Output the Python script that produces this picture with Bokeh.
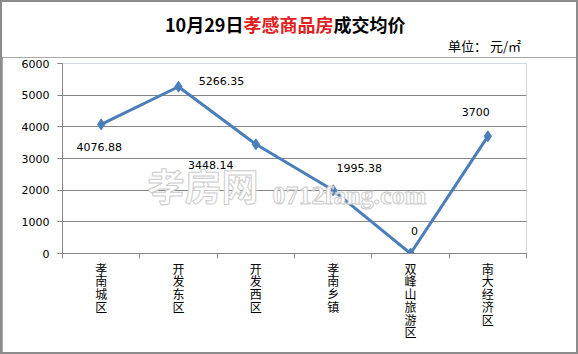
from bokeh.plotting import figure
from bokeh.models import Range1d, FixedTicker, Label, ColumnDataSource, LabelSet, Div
from bokeh.layouts import column
from bokeh.core.properties import value
from bokeh.embed import file_html
from bokeh.resources import INLINE

# ---- data ----
districts = ["孝南城区", "开发东区", "开发西区", "孝南乡镇", "双峰山旅游区", "南大经济区"]
prices = [4076.88, 5266.35, 3448.14, 1995.38, 0, 3700]
price_labels = ["4076.88", "5266.35", "3448.14", "1995.38", "0", "3700"]
y_ticks = [0, 1000, 2000, 3000, 4000, 5000, 6000]
title_parts = ["10月29日", "孝感商品房", "成交均价"]
unit_text = "单位： 元/㎡"

# ---- layout ----
BW = 2                    # outer border width
HEAD_H = 55               # header height (inside border)
FL, FB = 62, 253          # frame left / bottom in page pixels


def sx(cx):
    return cx - FL


def sy(cy):
    return FB - cy


label_dx = [-2, 43, -45, 26, 4, -12]
label_dy = [-23, 6, -21, 22, 23, 24]

xs = [i + 0.5 for i in range(len(districts))]

fig_h = 354 - HEAD_H - 3 * BW + BW  # = 354 - BW - HEAD_H - BW
fig_h = 354 - 2 * BW - HEAD_H
p = figure(width=578 - 2 * BW, height=fig_h, output_backend="svg", toolbar_location=None,
           x_range=Range1d(0, len(districts)), y_range=Range1d(0, 6000),
           min_border_left=62 - BW, min_border_right=52 - BW,
           min_border_top=63 - BW - HEAD_H, min_border_bottom=fig_h - (63 - BW - HEAD_H) - 190,
           background_fill_color="white", border_fill_color="white",
           margin=(0, BW, BW, BW))

p.outline_line_color = "#d0d8e4"
p.outline_line_width = 1

# grid
p.xgrid.visible = False
p.ygrid.ticker = FixedTicker(ticks=y_ticks)
p.ygrid.grid_line_color = "#868686"
p.ygrid.grid_line_width = 1

# y axis
p.yaxis.ticker = FixedTicker(ticks=y_ticks)
p.yaxis.axis_line_color = "#868686"
p.yaxis.major_tick_line_color = "#868686"
p.yaxis.major_tick_out = 5
p.yaxis.major_tick_in = 0
p.yaxis.minor_tick_line_color = None
p.yaxis.major_label_text_font = "DejaVu Sans"
p.yaxis.major_label_text_font_size = "11px"
p.yaxis.major_label_text_color = "black"
p.yaxis.major_label_standoff = 8

# x axis
p.xaxis.ticker = FixedTicker(ticks=xs, minor_ticks=list(range(len(districts) + 1)))
p.xaxis.major_label_overrides = {x: "\n".join(list(d)) for x, d in zip(xs, districts)}
p.xaxis.axis_line_color = "#868686"
p.xaxis.major_tick_line_color = None
p.xaxis.major_tick_out = 0
p.xaxis.major_tick_in = 0
p.xaxis.minor_tick_line_color = "#868686"
p.xaxis.minor_tick_out = 5
p.xaxis.minor_tick_in = 0
p.xaxis.major_label_text_font = "Noto Sans CJK SC"
p.xaxis.major_label_text_font_size = "12px"
p.xaxis.major_label_text_color = "black"
p.xaxis.major_label_text_line_height = 0.75
p.xaxis.major_label_standoff = 1

# watermark
wm1 = Label(x=sx(147), y=sy(211), x_units="screen", y_units="screen", text="孝房网",
            text_font="Noto Sans CJK SC", text_font_size="37px", text_font_style="bold",
            text_color="white", text_outline_color="#cccccc", text_baseline="bottom")
wm2 = Label(x=sx(272), y=sy(209), x_units="screen", y_units="screen", text="0712fang.com",
            text_font="Liberation Serif", text_font_size="26px", text_font_style="bold",
            text_color="white", text_outline_color="#cccccc", text_baseline="bottom")
p.add_layout(wm1)
p.add_layout(wm2)

src = ColumnDataSource(dict(x=xs, y=prices, lab=price_labels, dx=label_dx, dy=label_dy))
p.line("x", "y", source=src, line_color="#4a7ebb", line_width=3)
p.scatter("x", "y", source=src, marker="diamond", size=11, fill_color="#4a7ebb", line_color="#4a7ebb")

labels = LabelSet(x="x", y="y", text="lab", x_offset="dx", y_offset="dy", source=src,
                  text_font=value("DejaVu Sans"), text_font_size=value("11px"), text_color="black",
                  text_align="center", text_baseline="middle")
p.add_layout(labels)

# header: multi-coloured title and unit
title_html = (
    f'<div style="margin:0; padding:0; padding-left:{165 - BW}px; padding-top:{12 - BW}px; '
    'font-family:\'Noto Sans CJK SC\'; font-weight:bold; font-size:18px; line-height:24px; '
    'color:black; white-space:nowrap;">'
    f'{title_parts[0]}<span style="color:#e0201c">{title_parts[1]}</span>{title_parts[2]}</div>'
    f'<div style="margin:0; padding:0; padding-left:{448 - BW}px; '
    'font-family:\'Noto Sans CJK SC\'; font-size:13px; line-height:20px; color:black; white-space:nowrap;">'
    f'{unit_text}</div>'
)
head = Div(text=title_html, width=578 - 2 * BW, height=HEAD_H, margin=(BW, BW, 0, BW),
           styles={"background-color": "white", "overflow": "hidden"})

layout = column(head, p, spacing=0,
                styles={"background-color": "#8c8c8c"})

open("out.html", "w").write(file_html(layout, INLINE))
